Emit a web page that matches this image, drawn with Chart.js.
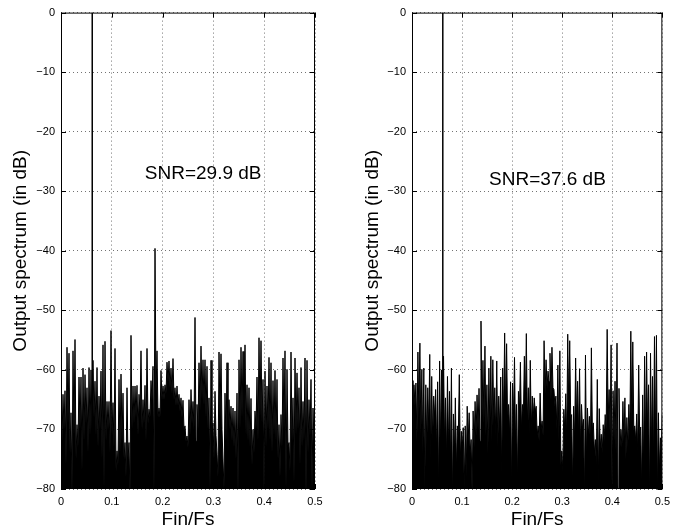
<!DOCTYPE html>
<html>
<head>
<meta charset="utf-8">
<script src="https://cdn.jsdelivr.net/npm/chart.js"></script>
<style>
  body { margin: 0; background: #fff; }
  #wrap { position: relative; width: 676px; height: 532px; }
  canvas { position: absolute; top: 0; }
</style>
</head>
<body>
<div id="wrap">
  <canvas id="leftChart" width="338" height="532" style="left:0"></canvas>
  <canvas id="rightChart" width="338" height="532" style="left:338px"></canvas>
</div>
<script>
// spectrum: one spike top and the valley after it per bin
const freqStep = 1 / 254;

const leftPeaks = [
  -66.9, -64.1, -63.5, -56.2, -57.2, -67.2, -56.8, -54.9, -69.2, -61.2,
  -61.2, -59.7, -60.8, -63.0, -59.6, -60.0, -58.4, -61.9, -59.6, -64.4,
  -60.2, -55.8, -55.2, -65.3, -65.3, -53.4, -65.5, -56.4, -73.6, -61.6,
  -60.7, -63.9, -72.2, -63.0, -72.2, -54.2, -62.7, -62.7, -62.6, -64.1,
  -56.8, -65.0, -62.6, -56.4, -66.6, -61.8, -59.4, -39.6, -56.8, -66.4,
  -60.1, -62.7, -62.5, -58.7, -58.5, -59.7, -58.1, -63.0, -62.7, -64.1,
  -64.7, -65.1, -69.4, -71.1, -65.0, -63.3, -65.3, -51.2, -65.8, -58.8,
  -56.0, -58.3, -58.3, -59.4, -64.7, -58.4, -68.9, -63.6, -74.2, -57.0,
  -57.3, -75.3, -63.9, -58.8, -65.0, -66.1, -66.4, -66.9, -63.9, -58.3,
  -56.2, -56.9, -55.8, -62.5, -63.0, -64.8, -70.0, -66.9, -61.2, -54.6,
  -55.1, -61.6, -60.2, -62.7, -57.9, -58.8, -61.8, -60.1, -61.6, -69.2,
  -67.5, -58.0, -56.8, -59.9, -72.2, -57.0, -64.7, -58.0, -60.5, -63.0,
  -59.6, -65.3, -58.0, -58.4, -65.0, -61.6, -66.4, -66.6
];
const leftFloors = [
  -72, -70, -76, -69, -74, -81, -71, -75, -73, -70,
  -77, -72, -69, -74, -71, -70, -68, -71, -73, -70,
  -75, -80, -72, -70, -74, -71, -73, -77, -76, -74,
  -72, -75, -78, -75, -82, -70, -69, -68, -71, -67,
  -70, -69, -72, -69, -68, -65, -81, -64, -68, -68,
  -65, -65, -64, -62, -63, -64, -65, -66, -66, -67,
  -68, -70, -72, -73, -71, -69, -70, -72, -70, -67,
  -65, -66, -68, -70, -80, -71, -75, -71, -78, -68,
  -70, -80, -72, -74, -70, -72, -73, -75, -81, -70,
  -68, -69, -71, -72, -73, -76, -74, -70, -72, -68,
  -69, -81, -73, -70, -72, -74, -71, -72, -75, -78,
  -73, -70, -80, -73, -77, -72, -79, -71, -70, -76,
  -73, -72, -82, -74, -71, -80, -72, -74
];

const rightPeaks = [
  -61.8, -62.5, -62.2, -57.0, -55.5, -59.9, -59.7, -62.5, -63.0, -57.4,
  -61.1, -64.4, -63.3, -62.0, -58.5, -60.0, -57.7, -64.7, -61.1, -63.6,
  -59.7, -67.4, -64.7, -69.4, -60.8, -70.3, -69.7, -69.4, -66.1, -67.2,
  -71.7, -66.9, -65.3, -64.2, -63.1, -51.8, -58.4, -56.0, -62.5, -59.7,
  -57.7, -58.3, -63.0, -58.5, -64.4, -61.2, -59.7, -53.8, -55.6, -65.8,
  -62.0, -62.2, -57.9, -65.8, -63.6, -58.7, -65.8, -57.7, -53.9, -63.0,
  -58.4, -64.4, -64.7, -66.1, -69.4, -63.9, -68.6, -55.1, -58.3, -60.2,
  -57.2, -56.2, -63.3, -64.4, -59.2, -56.8, -73.6, -66.6, -64.0, -54.0,
  -55.1, -67.5, -66.1, -58.0, -61.9, -59.8, -65.8, -68.3, -57.5, -66.4,
  -67.8, -56.3, -68.9, -71.7, -61.6, -66.5, -70.8, -69.2, -67.5, -53.2,
  -63.3, -55.8, -63.5, -61.9, -55.5, -63.1, -70.0, -65.3, -64.7, -68.0,
  -65.8, -53.5, -55.3, -69.4, -67.4, -59.2, -69.6, -64.2, -57.7, -57.0,
  -62.5, -57.2, -61.1, -54.4, -54.2, -67.2, -71.4, -67.5
];
const rightFloors = [
  -70, -66, -72, -68, -71, -74, -80, -73, -70, -75,
  -72, -68, -74, -81, -73, -70, -72, -75, -73, -76,
  -82, -74, -77, -71, -75, -73, -80, -78, -72, -74,
  -81, -73, -71, -70, -72, -68, -69, -71, -74, -70,
  -72, -69, -71, -73, -70, -78, -68, -67, -69, -71,
  -80, -68, -72, -79, -67, -70, -68, -66, -69, -71,
  -70, -68, -67, -71, -72, -70, -71, -64, -63, -62,
  -65, -63, -66, -70, -72, -76, -77, -70, -72, -66,
  -68, -80, -72, -69, -71, -73, -70, -82, -75, -71,
  -73, -70, -74, -76, -79, -73, -74, -72, -70, -68,
  -71, -81, -72, -74, -80, -73, -73, -72, -75, -73,
  -71, -69, -70, -72, -74, -71, -80, -76, -72, -70,
  -82, -73, -75, -72, -81, -77, -73, -75
];

const fundFreq = 0.0615;
const fundLevel = 0;
const snrText = ['SNR=29.9 dB', 'SNR=37.6 dB'];
const snrPos = [[0.165, -27.9], [0.154, -28.9]];

Chart.defaults.font.family = '"Liberation Sans", Arial, sans-serif';
Chart.defaults.color = '#000';

function spectrum(peaks, floors) {
  const pts = [];
  peaks.forEach((p, i) => {
    pts.push({x: i * freqStep, y: p});
    pts.push({x: (i + 0.5) * freqStep, y: floors[i]});
  });
  return pts;
}

// box, inward ticks and the SNR note
const matlabAxes = {
  id: 'matlabAxes',
  afterDatasetsDraw(chart, args, opts) {
    const {ctx, chartArea: a, scales: {x, y}} = chart;
    ctx.save();
    ctx.strokeStyle = '#000';
    ctx.lineWidth = 1;
    ctx.strokeRect(a.left + 0.5, a.top + 0.5, a.right - a.left - 1, a.bottom - a.top - 1);
    ctx.beginPath();
    x.ticks.forEach(t => {
      const px = Math.round(x.getPixelForValue(t.value)) + 0.5;
      ctx.moveTo(px, a.bottom); ctx.lineTo(px, a.bottom - 5);
      ctx.moveTo(px, a.top); ctx.lineTo(px, a.top + 5);
    });
    y.ticks.forEach(t => {
      const py = Math.round(y.getPixelForValue(t.value)) + 0.5;
      ctx.moveTo(a.left, py); ctx.lineTo(a.left + 5, py);
      ctx.moveTo(a.right, py); ctx.lineTo(a.right - 5, py);
    });
    ctx.stroke();
    ctx.fillStyle = '#000';
    ctx.font = '19px "Liberation Sans", Arial, sans-serif';
    ctx.textBaseline = 'alphabetic';
    ctx.fillText(opts.text, x.getPixelForValue(opts.at[0]), y.getPixelForValue(opts.at[1]));
    ctx.restore();
  }
};

function makeChart(id, peaks, floors, idx, yWidth, padRight, titlePad) {
  new Chart(document.getElementById(id), {
    type: 'line',
    data: {
      datasets: [{
        data: spectrum(peaks, floors),
        borderColor: '#000',
        backgroundColor: '#000',
        borderWidth: 1,
        borderJoinStyle: 'bevel',
        pointRadius: 0,
        fill: 'start'
      }, {
        data: [{x: fundFreq, y: -80}, {x: fundFreq, y: fundLevel}],
        borderColor: '#000',
        borderWidth: 1.5,
        pointRadius: 0,
        fill: false
      }]
    },
    options: {
      responsive: false,
      animation: false,
      layout: {padding: {top: 10, right: padRight, bottom: 0, left: 0}},
      plugins: {
        legend: {display: false},
        tooltip: {enabled: false},
        matlabAxes: {text: snrText[idx], at: snrPos[idx]}
      },
      scales: {
        x: {
          type: 'linear', min: 0, max: 0.5,
          afterFit: s => { s.height = 43; },
          ticks: {stepSize: 0.1, padding: 6, font: {size: 11}, maxRotation: 0},
          grid: {color: 'rgba(0,0,0,0.55)', drawTicks: false},
          border: {display: false, dash: [1, 3]},
          title: {display: true, text: 'Fin/Fs', font: {size: 19}, padding: {top: 0, bottom: 1}}
        },
        y: {
          min: -80, max: 0,
          afterFit: s => { s.width = yWidth; },
          ticks: {stepSize: 10, padding: 6, font: {size: 11},
                  callback: v => String(v).replace('-', '\u2212')},
          grid: {color: 'rgba(0,0,0,0.55)', drawTicks: false},
          border: {display: false, dash: [1, 3]},
          title: {display: true, text: 'Output spectrum (in dB)', font: {size: 19},
                  padding: {top: titlePad, bottom: 0}}
        }
      }
    },
    plugins: [matlabAxes]
  });
}

makeChart('leftChart', leftPeaks, leftFloors, 0, 61, 23, 9);
makeChart('rightChart', rightPeaks, rightFloors, 1, 74, 11, 23);
</script>
</body>
</html>
